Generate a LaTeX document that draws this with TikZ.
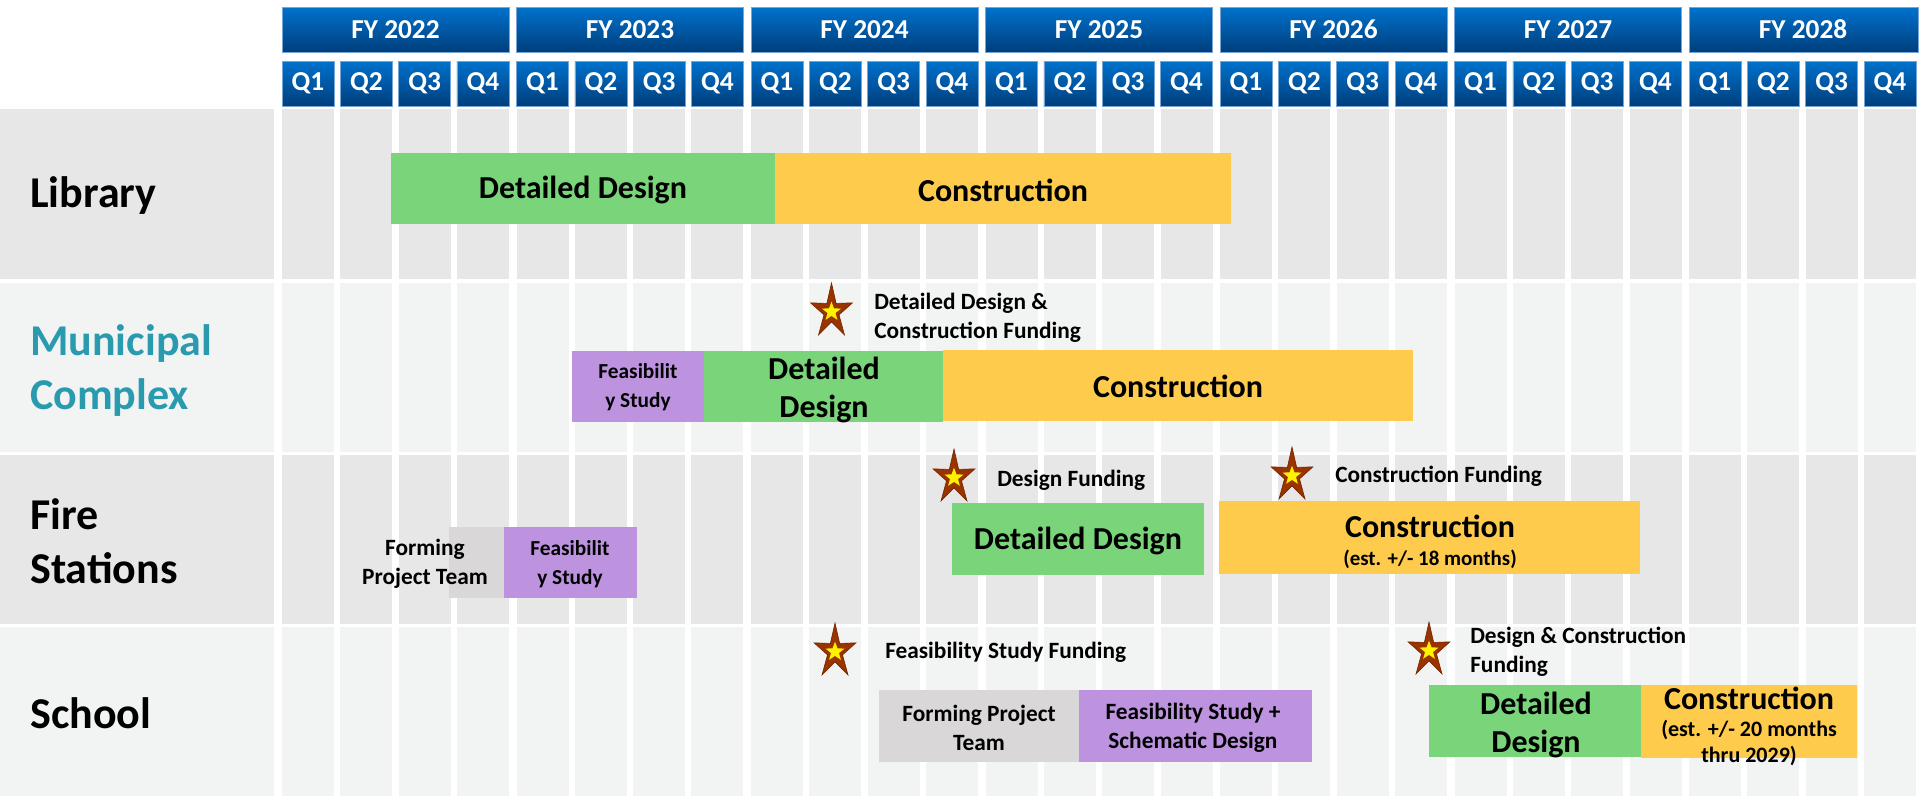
\documentclass[tikz,border=0pt]{standalone}
\usepackage{fontspec}
\setmainfont{Carlito}
\usetikzlibrary{shapes.geometric}

\definecolor{hdrTop}{RGB}{0,114,204}
\definecolor{hdrBot}{RGB}{0,62,124}
\definecolor{hdrEdge}{RGB}{120,165,215}
\definecolor{rowDark}{RGB}{231,231,231}
\definecolor{rowLight}{RGB}{242,244,243}
\definecolor{barGreen}{RGB}{122,213,122}
\definecolor{barOrange}{RGB}{255,203,76}
\definecolor{barPurple}{RGB}{189,147,224}
\definecolor{barGray}{RGB}{217,215,216}
\definecolor{starRed}{RGB}{153,51,0}
\definecolor{starEdge}{RGB}{120,38,0}
\definecolor{labelTeal}{RGB}{42,155,175}

\begin{document}
\begin{tikzpicture}[x=0.75pt,y=0.75pt,yscale=-1,xscale=1,
  hdr/.style={top color=hdrTop, bottom color=hdrBot, draw=hdrEdge, line width=0.4pt},
  hdrtext/.style={text=white, inner sep=0.75pt, font=\fontsize{20.5}{24}\selectfont\bfseries},
  rowlabel/.style={anchor=west, inner sep=0.75pt, align=left, font=\fontsize{33}{40.5}\selectfont\bfseries},
  bartext/.style={inner sep=0.75pt, align=center, font=\fontsize{24}{28.5}\selectfont\bfseries},
  smalltext/.style={inner sep=0.75pt, align=center, font=\fontsize{16}{22}\selectfont\bfseries},
  notetext/.style={anchor=west, inner sep=0.75pt, align=left, font=\fontsize{17.5}{21.5}\selectfont\bfseries},
  fundstar/.style={star, star points=5, star point ratio=2.8, minimum size=33pt, inner sep=0pt,
    fill=starRed, draw=starEdge, line width=0.5pt, yscale=1.3},
  starcore/.style={star, star points=5, star point ratio=2.4, minimum size=15pt, inner sep=0pt, fill=yellow}]
        \useasboundingbox (0,0) rectangle (1920,796); %set diagram to the 1920 x 796 frame

        %Header: fiscal years
        \draw[hdr] (282,7) rectangle (509,52);
        \draw[hdr] (516.5,7) rectangle (743.5,52);
        \draw[hdr] (751,7) rectangle (978,52);
        \draw[hdr] (985.5,7) rectangle (1212.5,52);
        \draw[hdr] (1220,7) rectangle (1447,52);
        \draw[hdr] (1454.5,7) rectangle (1681.5,52);
        \draw[hdr] (1689,7) rectangle (1918,52);
        \node[hdrtext] (fy2022) at (395.5,29.5) {FY 2022};
        \node[hdrtext] (fy2023) at (630,29.5) {FY 2023};
        \node[hdrtext] (fy2024) at (864.5,29.5) {FY 2024};
        \node[hdrtext] (fy2025) at (1099,29.5) {FY 2025};
        \node[hdrtext] (fy2026) at (1333.5,29.5) {FY 2026};
        \node[hdrtext] (fy2027) at (1568,29.5) {FY 2027};
        \node[hdrtext] (fy2028) at (1803,29.5) {FY 2028};

        %Header: quarters
        \foreach \yr in {0,...,6}{
          \foreach \q in {0,...,3}{
            \pgfmathsetmacro{\qx}{282+234.5*\yr+58.33*\q}
            \pgfmathtruncatemacro{\qn}{\q+1}
            \draw[hdr] (\qx,61) rectangle (\qx+52,106);
            \node[hdrtext] (q\yr\q) at (\qx+26,83.5) {Q\qn};
          }
        }

        %Rows: label boxes and quarter cells
        \foreach \ytop/\ybot/\rowcol in {109/279/rowDark, 283/452/rowLight, 455/624/rowDark, 627/796/rowLight}{
          \fill[\rowcol] (0,\ytop) rectangle (274,\ybot);
          \foreach \yr in {0,...,6}{
            \foreach \q in {0,...,3}{
              \pgfmathsetmacro{\qx}{282+234.5*\yr+58.33*\q}
              \fill[\rowcol] (\qx,\ytop) rectangle (\qx+52,\ybot);
            }
          }
        }

        % Row labels
        \node[rowlabel] (lblLibrary) at (29,196) {Library};
        \node[rowlabel, text=labelTeal] (lblMunicipal) at (29,371) {Municipal\\Complex};
        \node[rowlabel] (lblFire) at (29,541) {Fire\\Stations};
        \node[rowlabel] (lblSchool) at (29,713) {School};

        %Library bars
        \fill[barGreen] (391,153) rectangle (775,224);
        \fill[barOrange] (775,153) rectangle (1231,224);
        \node[bartext] (libDesign) at (583,190) {Detailed Design};
        \node[bartext] (libBuild) at (1003,190) {Construction};

        %Municipal Complex bars
        \fill[barPurple] (572,351) rectangle (704,422);
        \fill[barGreen] (704,351) rectangle (943,422);
        \fill[barOrange] (943,350) rectangle (1413,421);
        \node[smalltext] (munStudy) at (638,387) {Feasibilit\\y Study};
        \node[bartext] (munDesign) at (824,390) {Detailed\\Design};
        \node[bartext] (munBuild) at (1178,386) {Construction};
        \node[fundstar] (munStar) at (831.5,311.7) {};
        \node[starcore] (munStarCore) at (munStar.center) {};
        \node[notetext] (munNote) at (873,318) {Detailed Design \&\\Construction Funding};

        %Fire Stations bars
        \fill[barGray] (449,527) rectangle (504,598);
        \fill[barPurple] (504,527) rectangle (637,598);
        \fill[barGreen] (952,503) rectangle (1204,575);
        \fill[barOrange] (1219,501) rectangle (1640,574);
        \node[notetext, anchor=center, align=center] (fireTeam) at (425,564) {Forming\\Project Team};
        \node[smalltext] (fireStudy) at (570,564) {Feasibilit\\y Study};
        \node[bartext] (fireDesign) at (1078,541) {Detailed Design};
        \node[bartext] (fireBuild) at (1430,526) {Construction};
        \node[smalltext, font=\fontsize{15.7}{19}\selectfont\bfseries] (fireBuildEst) at (1430,559) {(est. +/- 18 months)};
        \node[fundstar] (fireStarA) at (954,477.7) {};
        \node[starcore] (fireStarACore) at (fireStarA.center) {};
        \node[notetext] (fireNoteA) at (996,480) {Design Funding};
        \node[fundstar] (fireStarB) at (1292,475.7) {};
        \node[starcore] (fireStarBCore) at (fireStarB.center) {};
        \node[notetext] (fireNoteB) at (1334,476) {Construction Funding};

        %School bars
        \fill[barGray] (879,690) rectangle (1079,762);
        \fill[barPurple] (1079,690) rectangle (1312,762);
        \fill[barGreen] (1429,685) rectangle (1641,757);
        \fill[barOrange] (1641,685) rectangle (1857,758);
        \node[notetext, anchor=center, align=center] (schTeam) at (979,728) {Forming Project\\Team};
        \node[notetext, anchor=center, align=center] (schStudy) at (1193,728) {Feasibility Study +\\Schematic Design};
        \node[bartext] (schDesign) at (1536,725) {Detailed\\Design};
        \node[bartext] (schBuild) at (1749,698) {Construction};
        \node[smalltext, font=\fontsize{16.5}{19}\selectfont\bfseries] (schBuildEst) at (1749,743) {(est. +/- 20 months\\thru 2029)};
        \node[fundstar] (schStarA) at (835,651.7) {};
        \node[starcore] (schStarACore) at (schStarA.center) {};
        \node[notetext] (schNoteA) at (884,652) {Feasibility Study Funding};
        \node[fundstar] (schStarB) at (1429,650.7) {};
        \node[starcore] (schStarBCore) at (schStarB.center) {};
        \node[notetext] (schNoteB) at (1469,652) {Design \& Construction\\Funding};
\end{tikzpicture}
\end{document}
